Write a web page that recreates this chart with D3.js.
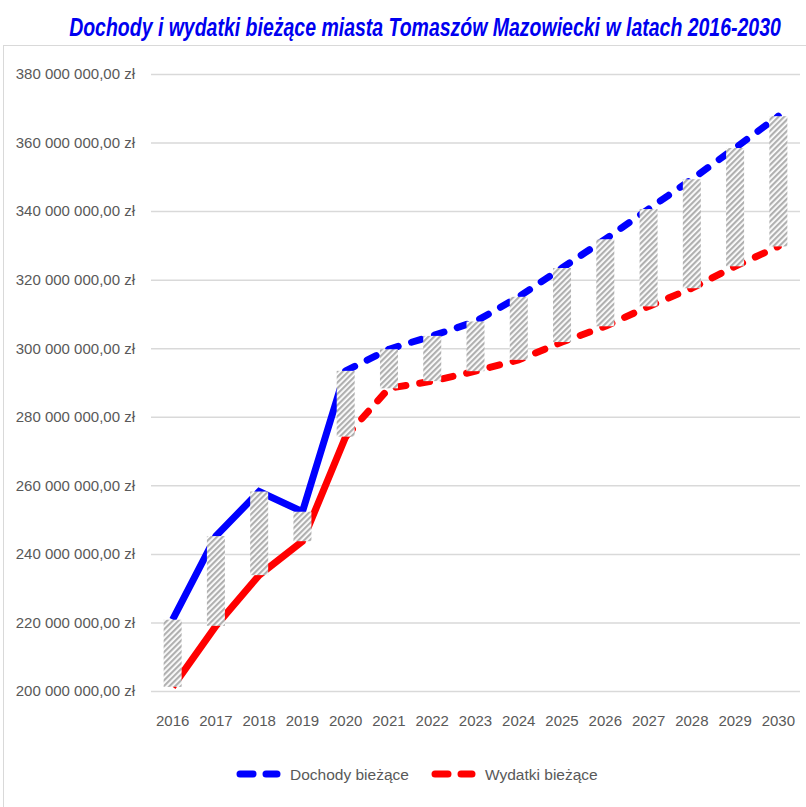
<!DOCTYPE html>
<html>
<head>
<meta charset="utf-8">
<script src="https://cdn.jsdelivr.net/npm/d3@7"></script>
<style>
    body { margin: 0; background: #ffffff; }
    svg { display: block; }
</style>
</head>
<body>
<div id="chart"></div>
<script>
var years = ["2016", "2017", "2018", "2019", "2020", "2021", "2022", "2023",
    "2024", "2025", "2026", "2027", "2028", "2029", "2030"];

// Dochody bieżące (mln zł)
var income = [220.8, 245.2, 258.2, 252.3, 293.4, 299.7, 303.6, 307.8,
    315.0, 323.4, 331.8, 340.6, 349.3, 358.4, 367.7];

// Wydatki bieżące (mln zł)
var expenses = [201.2, 219.0, 233.8, 243.7, 274.2, 288.3, 290.4, 293.3,
    296.6, 301.8, 306.4, 312.2, 317.5, 323.9, 329.7];

var yTicks = [200, 220, 240, 260, 280, 300, 320, 340, 360, 380];

var seriesNames = ["Dochody bieżące", "Wydatki bieżące"];

// last index drawn with a solid line, the rest is dashed (plan)
var solidUntil = 4;

var width = 806, height = 807;

var margin = {
    top: 74,
    right: 6,
    bottom: 116,
    left: 151
};

var svg = d3.select("#chart").append("svg")
    .attr("width", width)
    .attr("height", height);

// chart frame
svg.append("rect")
    .attr("x", 3.5)
    .attr("y", 45.5)
    .attr("width", width + 10)
    .attr("height", height + 10)
    .attr("fill", "none")
    .attr("stroke", "#d9d9d9")
    .attr("stroke-width", 1);

// hatch pattern for the up/down bars
var defs = svg.append("defs");
var pattern = defs.append("pattern")
    .attr("id", "hatch")
    .attr("patternUnits", "userSpaceOnUse")
    .attr("width", 4)
    .attr("height", 4)
    .attr("patternTransform", "rotate(45)");
pattern.append("rect")
    .attr("width", 4)
    .attr("height", 4)
    .attr("fill", "#ffffff");
pattern.append("rect")
    .attr("width", 2.2)
    .attr("height", 4)
    .attr("fill", "#b0b0b0");

// title, squeezed horizontally to the width of the original (narrow font)
var title = svg.append("text")
    .attr("text-anchor", "middle")
    .attr("font-family", "'Liberation Sans', sans-serif")
    .attr("font-size", 25)
    .attr("font-weight", "bold")
    .attr("font-style", "italic")
    .attr("fill", "#0000f0")
    .text("Dochody i wydatki bieżące miasta Tomaszów Mazowiecki w latach 2016-2030");
var titleW = title.node().getComputedTextLength();
title.attr("transform", "translate(425,36) scale(" + (712 / titleW) + ",1)");

var x = d3.scaleBand()
    .domain(years)
    .range([margin.left, width - margin.right]);

var y = d3.scaleLinear()
    .domain([200, 380])
    .range([height - margin.bottom, margin.top]);

var labelFont = "'Liberation Sans', sans-serif";

// gridlines + y labels
var yAxis = d3.axisLeft(y)
    .tickValues(yTicks)
    .tickSize(-(width - margin.left - margin.right))
    .tickPadding(16)
    .tickFormat(function (d) {
        return d3.format("d")(d) + " 000 000,00 zł";
    });

var gy = svg.append("g")
    .attr("transform", "translate(" + margin.left + ",0)")
    .call(yAxis);
gy.select(".domain").remove();
gy.selectAll(".tick line")
    .attr("stroke", "#d9d9d9")
    .attr("stroke-width", 1.5);
gy.selectAll(".tick text")
    .attr("font-family", labelFont)
    .attr("font-size", 15)
    .attr("fill", "#595959");

// x labels
var xAxis = d3.axisBottom(x).tickSize(0).tickPadding(24);
var gx = svg.append("g")
    .attr("transform", "translate(0," + (height - margin.bottom) + ")")
    .call(xAxis);
gx.select(".domain").remove();
gx.selectAll(".tick text")
    .attr("font-family", labelFont)
    .attr("font-size", 15)
    .attr("fill", "#595959");

var line = d3.line()
    .x(function (d) { return x(d.year) + x.bandwidth() / 2; })
    .y(function (d) { return y(d.value); });

function drawSeries(values, color) {
    var pts = values.map(function (v, i) {
        return { year: years[i], value: v };
    });

    svg.append("path")
        .attr("d", line(pts.slice(0, solidUntil + 1)))
        .attr("fill", "none")
        .attr("stroke", color)
        .attr("stroke-width", 7)
        .attr("stroke-linejoin", "miter");

    svg.append("path")
        .attr("d", line(pts.slice(solidUntil)))
        .attr("fill", "none")
        .attr("stroke", color)
        .attr("stroke-width", 7)
        .attr("stroke-linecap", "round")
        .attr("stroke-linejoin", "round")
        .attr("stroke-dasharray", "10,14");
}

drawSeries(income, "#0000ff");
drawSeries(expenses, "#ff0000");

// up/down bars on top of the lines
var barW = 18;
svg.selectAll(".updown")
    .data(years)
    .enter().append("rect")
    .attr("class", "updown")
    .attr("x", function (d) { return x(d) + x.bandwidth() / 2 - barW / 2; })
    .attr("y", function (d, i) { return y(Math.max(income[i], expenses[i])); })
    .attr("width", barW)
    .attr("height", function (d, i) {
        return Math.abs(y(income[i]) - y(expenses[i]));
    })
    .attr("fill", "url(#hatch)");

// legend
var legendColors = ["#0000ff", "#ff0000"];
var legendX = [237, 432];
var legend = svg.selectAll(".legend")
    .data(seriesNames)
    .enter().append("g")
    .attr("class", "legend")
    .attr("transform", function (d, i) {
        return "translate(" + legendX[i] + ",774)";
    });

legend.append("line")
    .attr("x1", 3).attr("x2", 40)
    .attr("y1", 0).attr("y2", 0)
    .attr("stroke", function (d, i) { return legendColors[i]; })
    .attr("stroke-width", 7)
    .attr("stroke-linecap", "round")
    .attr("stroke-dasharray", "13,13");

legend.append("text")
    .attr("x", 53)
    .attr("y", 6)
    .attr("font-family", labelFont)
    .attr("font-size", 15.5)
    .attr("fill", "#595959")
    .text(function (d) { return d; });
</script>
</body>
</html>
